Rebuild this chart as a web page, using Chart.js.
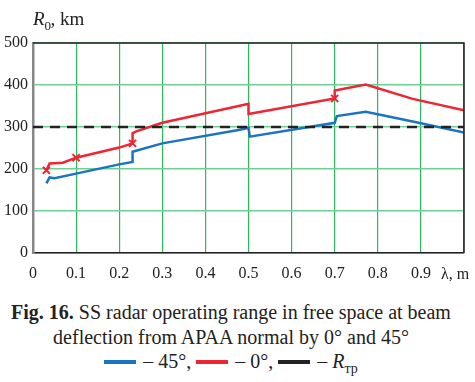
<!DOCTYPE html>
<html>
<head>
<meta charset="utf-8">
<script src="https://cdn.jsdelivr.net/npm/chart.js@4.4.0/dist/chart.umd.min.js"></script>
<style>
body { margin: 0; background: #fff; font-family: "Liberation Serif", "Times New Roman", serif; }
#wrap { position: relative; width: 475px; height: 290px; }
#caption {
  position: absolute; left: 0; top: 300px; width: 462px;
  text-align: center; font-size: 20px; line-height: 24.5px; color: #222;
}
.seg { display: inline-block; width: 32px; height: 4px; vertical-align: middle; margin: 0 2px 0 0; position: relative; top: -1px; }
</style>
</head>
<body>
<div id="wrap"><canvas id="myChart" width="475" height="290"></canvas></div>
<div id="caption">
  <b>Fig. 16.</b> SS radar operating range in free space at beam<br>
  deflection from APAA normal by 0° and 45°<br>
  <span class="seg" style="background:#1b74c0"></span> – 45°,
  <span class="seg" style="background:#ee2533"></span> – 0°,
  <span class="seg" style="background:#222"></span> – <i>R</i><sub style="font-size:14px">тр</sub>
</div>
<script>
// values (lambda in m, R0 in km)
var redX = [0.031, 0.0385, 0.069, 0.1, 0.2, 0.231, 0.231, 0.238, 0.3, 0.477, 0.5, 0.5, 0.7, 0.7, 0.772, 0.881, 1.0];
var redY = [197, 213, 215, 227, 251, 261, 285, 289, 310, 350, 355, 331, 368, 387, 401, 367, 340];
var blueX = [0.031, 0.0385, 0.05, 0.1, 0.2, 0.231, 0.231, 0.237, 0.3, 0.477, 0.5, 0.503, 0.7, 0.705, 0.772, 0.881, 1.0];
var blueY = [166, 180, 178, 189, 211, 217, 241, 243, 261, 293, 298, 277, 310, 326, 336, 313, 287];
var markX = [0.031, 0.1, 0.231, 0.7];
var markY = [197, 227, 261, 368];
var rtrX = [0, 1];
var rtrY = [300, 300];

var FONT = "'Liberation Serif'";

function pts(xs, ys) {
    var out = [];
    for (var i = 0; i < xs.length; i++) out.push({x: xs[i], y: ys[i]});
    return out;
}

var frame = {
    id: 'frame',
    afterDraw: function(chart) {
        var ctx = chart.ctx, a = chart.chartArea;
        ctx.save();
        ctx.strokeStyle = '#222';
        ctx.lineWidth = 1.5;
        ctx.beginPath();
        ctx.moveTo(a.left, a.top);
        ctx.lineTo(a.right, a.top);
        ctx.lineTo(a.right, a.bottom);
        ctx.stroke();
        // axis titles
        ctx.fillStyle = '#222';
        ctx.textBaseline = 'alphabetic';
        ctx.font = 'italic 19px ' + FONT;
        ctx.fillText('R', 33, 25);
        var w = ctx.measureText('R').width;
        ctx.font = '13px ' + FONT;
        ctx.fillText('0', 33 + w, 30);
        ctx.font = '19px ' + FONT;
        ctx.fillText(', km', 33 + w + 6, 25);
        ctx.font = '16px ' + FONT;
        ctx.fillText('λ, m', 441, 279);
        ctx.restore();
    }
};

function draw() {
    new Chart("myChart", {
        type: "line",
        data: {
            datasets: [{
                data: pts(rtrX, rtrY),
                borderColor: '#222',
                borderWidth: 2.5,
                borderDash: [10, 7],
                pointRadius: 0
            }, {
                data: pts(blueX, blueY),
                borderColor: '#1b74c0',
                borderWidth: 2.5,
                pointRadius: 0
            }, {
                data: pts(redX, redY),
                borderColor: '#ee2533',
                borderWidth: 2.5,
                pointRadius: 0
            }, {
                data: pts(markX, markY),
                showLine: false,
                pointStyle: 'crossRot',
                pointRadius: 5,
                pointBorderWidth: 2,
                pointBorderColor: '#ee2533',
                borderColor: '#ee2533'
            }]
        },
        options: {
            responsive: false,
            animation: false,
            layout: {padding: {top: 43, right: 8, left: 0, bottom: 0}},
            plugins: {legend: {display: false}, tooltip: {enabled: false}},
            scales: {
                x: {
                    type: 'linear', min: 0, max: 1,
                    afterFit: function(s) { s.height = 37; },
                    grid: {color: '#2db85e', lineWidth: 1.2, drawTicks: false},
                    border: {color: '#222', width: 1.5},
                    ticks: {
                        stepSize: 0.1, padding: 11, color: '#222',
                        font: {family: FONT, size: 16},
                        callback: function(v) { return v > 0.95 ? '' : (v === 0 ? '0' : v.toFixed(1)); }
                    }
                },
                y: {
                    min: 0, max: 500,
                    afterFit: function(s) { s.width = 33; },
                    grid: {color: '#6fd093', lineWidth: 1.5, drawTicks: false},
                    border: {color: '#888', width: 2.5},
                    ticks: {
                        stepSize: 100, padding: 5, color: '#222',
                        font: {family: FONT, size: 16}
                    }
                }
            }
        },
        plugins: [frame]
    });
}

Promise.all([
    document.fonts.load('16px ' + FONT),
    document.fonts.load('italic 19px ' + FONT)
]).then(draw, draw);
</script>
</body>
</html>
